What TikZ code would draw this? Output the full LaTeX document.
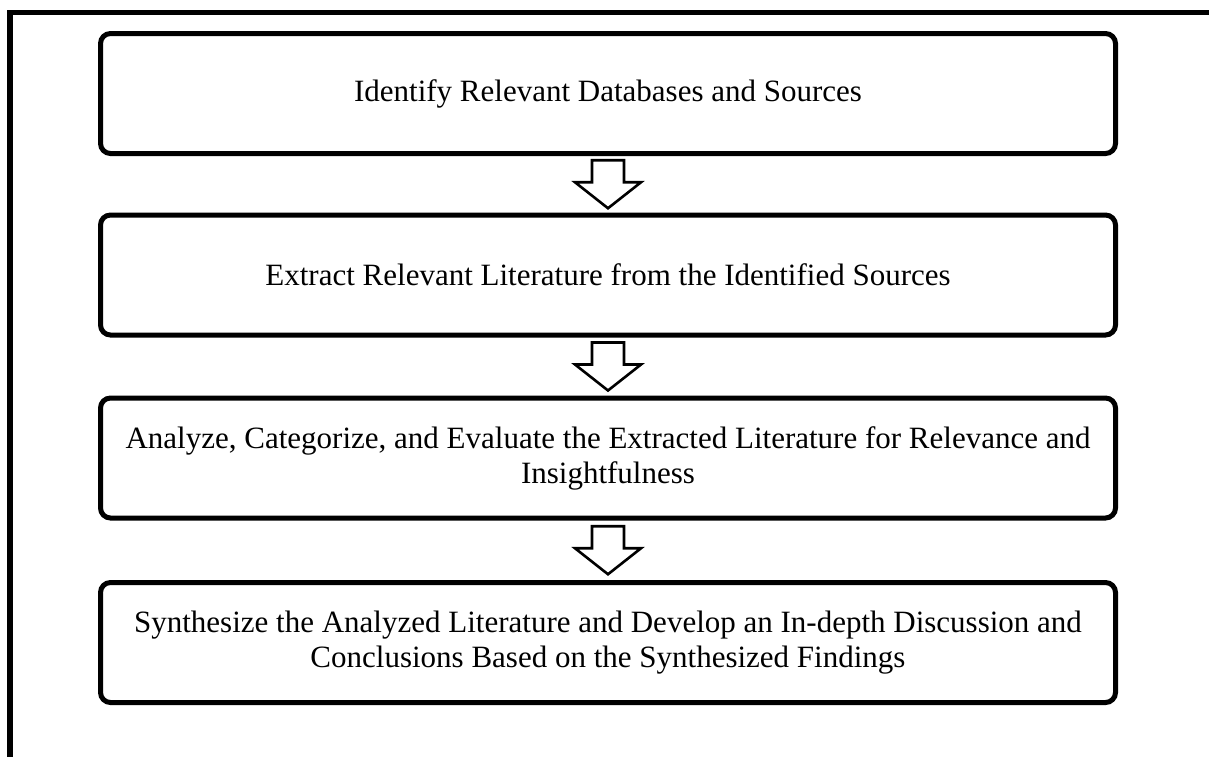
\documentclass[tikz,border=0pt]{standalone}
\usepackage{fontspec}
\setmainfont{Liberation Serif}
\usetikzlibrary{calc}

\begin{document}
\begin{tikzpicture}[x=0.5pt,y=-0.5pt]

	\tikzstyle{stage} = [draw,line width=2.5pt,rounded corners=5pt,minimum width=507.5pt,minimum height=60pt,align=center,font=\fontsize{15.5}{17.5}\selectfont]
	\tikzstyle{flow} = [draw,line width=1.3pt,fill=white,miter limit=10]

	\useasboundingbox (0,0) rectangle (1209,756);

	% open frame, left and top only
	\draw[line width=2.6pt] (10,770) -- (10,12.5) -- (1220,12.5);

	\node[stage] (st1) at (608,93.5) {Identify Relevant Databases and Sources};
	\node[stage] (st2) at (608,275) {Extract Relevant Literature from the Identified Sources};
	\node[stage] (st3) at (608,458) {Analyze, Categorize, and Evaluate the Extracted Literature for Relevance and\\ Insightfulness};
	\node[stage] (st4) at (608,642.5) {Synthesize the Analyzed Literature and Develop an In-depth Discussion and\\ Conclusions Based on the Synthesized Findings};

	\foreach \a/\b in {st1/st2,st2/st3,st3/st4}
		\draw[flow] ($(\a.south)!.5!(\b.north)$) ++(-16,-24) -- ++(32,0) -- ++(0,22) -- ++(17,0)
			-- ++(-33,26) -- ++(-33,-26) -- ++(17,0) -- cycle;

\end{tikzpicture}
\end{document}
